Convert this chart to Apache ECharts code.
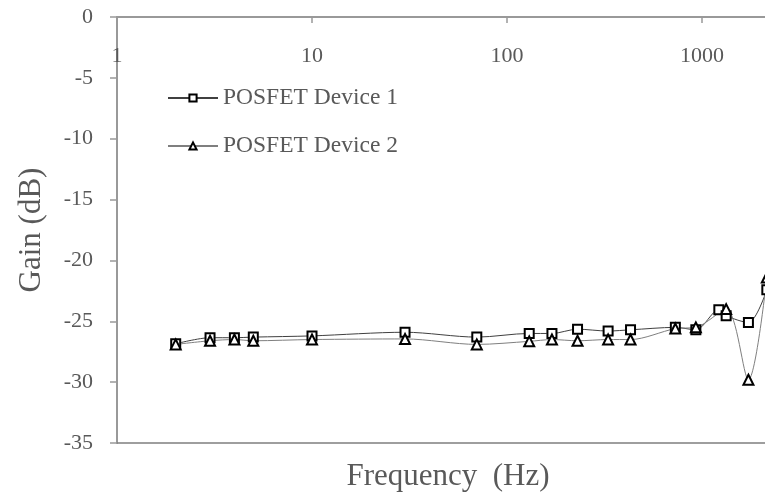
<!DOCTYPE html>
<html>
<head>
<meta charset="utf-8">
<script src="https://cdn.jsdelivr.net/npm/echarts@6/dist/echarts.min.js"></script>
<style>
  html, body { margin: 0; padding: 0; background: #fff; overflow: hidden; }
  /* the plot runs on past the right edge of the window, as in the source */
  #chart { width: 897px; min-width: 897px; height: 499px; }
</style>
</head>
<body>
<div id="chart"></div>
<script>
// frequencies (Hz) and gains (dB)
const freqDevice1 = [2, 3, 4, 5, 10, 30, 70, 130, 170, 230, 330, 430, 730, 930, 1220, 1330, 1730, 2150];
const gainDevice1 = [-26.85, -26.35, -26.35, -26.3, -26.2, -25.9, -26.3, -26.0, -26.0, -25.65, -25.8, -25.7, -25.5, -25.7, -24.05, -24.55, -25.1, -22.4];

const freqDevice2 = [2, 3, 4, 5, 10, 30, 70, 130, 170, 230, 330, 430, 730, 930, 1330, 1730, 2150];
const gainDevice2 = [-26.9, -26.6, -26.5, -26.6, -26.5, -26.45, -26.9, -26.65, -26.5, -26.6, -26.5, -26.5, -25.6, -25.5, -24.0, -29.8, -21.4];

const seriesNames = ['POSFET Device 1', 'POSFET Device 2'];
const yTicks = { min: -35, max: 0, step: 5 };
const xRange = { min: 1, max: 10000 };

const FONT = 'Liberation Serif';
const TEXT = '#595959';

function pairs(xs, ys) {
    return xs.map((x, i) => [x, ys[i]]);
}

const chart = echarts.init(document.getElementById('chart'), null, {
    renderer: 'canvas',
    width: 897,
    height: 499
});

chart.setOption({
    animation: false,
    backgroundColor: '#fff',
    grid: {
        left: 117,
        top: 17,
        bottom: 56,
        right: 0,
        // don't let v6 shrink the grid to keep the 10000 label inside
        outerBoundsMode: 'none',
        containLabel: false
    },
    legend: {
        orient: 'vertical',
        left: 162,
        top: 81,
        itemWidth: 50,
        itemHeight: 9,
        itemGap: 24,
        textStyle: { fontFamily: FONT, fontSize: 23.5, color: TEXT },
        data: seriesNames
    },
    xAxis: [
        {
            type: 'log',
            logBase: 10,
            min: xRange.min,
            max: xRange.max,
            position: 'top',
            axisLine: { lineStyle: { color: '#999', width: 2 } },
            axisTick: { inside: true, length: 6, lineStyle: { color: '#999', width: 1.5 } },
            axisLabel: {
                inside: true,
                margin: 28,
                fontFamily: FONT,
                fontSize: 22,
                color: TEXT,
                formatter: v => String(v)
            },
            splitLine: { show: false },
            minorTick: { show: false }
        },
        {
            // plain bottom edge of the plot area
            type: 'log',
            logBase: 10,
            min: xRange.min,
            max: xRange.max,
            position: 'bottom',
            axisLine: { lineStyle: { color: '#7f7f7f', width: 1.5 } },
            axisTick: { show: false },
            axisLabel: { show: false },
            splitLine: { show: false }
        }
    ],
    yAxis: {
        type: 'value',
        min: yTicks.min,
        max: yTicks.max,
        interval: yTicks.step,
        axisLine: { show: true, lineStyle: { color: '#999', width: 2 } },
        axisTick: { show: true, length: 7, lineStyle: { color: '#999', width: 1.5 } },
        axisLabel: {
            margin: 24,
            fontFamily: FONT,
            fontSize: 22,
            color: TEXT
        },
        splitLine: { show: false }
    },
    graphic: [
        {
            type: 'text',
            x: 32,
            y: 230,
            rotation: Math.PI / 2,
            style: {
                text: 'Gain (dB)',
                font: '31px "' + FONT + '"',
                fill: TEXT,
                align: 'center',
                verticalAlign: 'middle'
            }
        },
        {
            type: 'text',
            x: 448,
            y: 477,
            style: {
                text: 'Frequency  (Hz)',
                font: '31px "' + FONT + '"',
                fill: TEXT,
                align: 'center',
                verticalAlign: 'middle'
            }
        }
    ],
    series: [
        {
            name: seriesNames[0],
            type: 'line',
            smooth: 0.3,
            data: pairs(freqDevice1, gainDevice1),
            symbol: 'rect',
            symbolSize: 9,
            lineStyle: { color: '#404040', width: 1 },
            itemStyle: { color: '#fff', borderColor: '#000', borderWidth: 2 }
        },
        {
            name: seriesNames[1],
            type: 'line',
            smooth: 0.3,
            data: pairs(freqDevice2, gainDevice2),
            symbol: 'triangle',
            symbolSize: 10,
            lineStyle: { color: '#7f7f7f', width: 1 },
            itemStyle: { color: '#fff', borderColor: '#000', borderWidth: 2 }
        }
    ]
});
</script>
</body>
</html>
